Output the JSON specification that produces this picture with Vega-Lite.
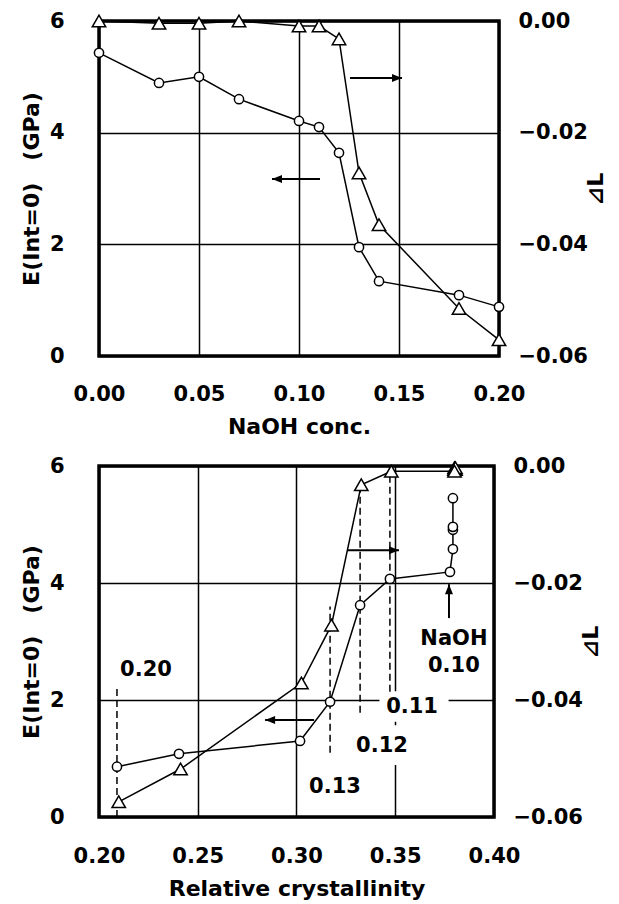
{
  "$schema": "https://vega.github.io/schema/vega-lite/v6.json",
  "background": "white",
  "padding": {"left": 18, "top": 8, "right": 0, "bottom": 0},
  "spacing": 14,
  "config": {
    "font": "DejaVu Sans",
    "view": {"stroke": "black", "strokeWidth": 3.5},
    "axis": {
      "labelFont": "DejaVu Sans", "labelFontWeight": "bold", "labelFontSize": 21, "labelColor": "black",
      "titleFont": "DejaVu Sans", "titleFontWeight": "bold", "titleFontSize": 22, "titleColor": "black",
      "domain": false, "ticks": false, "gridColor": "black", "gridWidth": 1.5, "gridOpacity": 1, "labelFlush": false, "labelOverlap": false
    }
  },
  "datasets": {
    "top": [
      {"x": 0.00, "E": 5.43, "dL": 0.0000},
      {"x": 0.03, "E": 4.89, "dL": -0.0004},
      {"x": 0.05, "E": 5.00, "dL": -0.0004},
      {"x": 0.07, "E": 4.60, "dL": 0.0000},
      {"x": 0.10, "E": 4.21, "dL": -0.0009},
      {"x": 0.11, "E": 4.10, "dL": -0.0009},
      {"x": 0.12, "E": 3.64, "dL": -0.0032},
      {"x": 0.13, "E": 1.95, "dL": -0.0272},
      {"x": 0.14, "E": 1.34, "dL": -0.0365},
      {"x": 0.18, "E": 1.09, "dL": -0.0515},
      {"x": 0.20, "E": 0.88, "dL": -0.0571}
    ],
    "topArrows": [
      {"x": 0.1255, "x2": 0.1515, "E": 4.98, "E2": 4.98},
      {"x": 0.1105, "x2": 0.0865, "E": 3.17, "E2": 3.17}
    ],
    "topHeads": [
      {"x": 0.1515, "E": 4.98, "dir": "right"},
      {"x": 0.0865, "E": 3.17, "dir": "left"}
    ],
    "bE": [
      {"c": 0.00, "x": 0.3792, "E": 5.45},
      {"c": 0.03, "x": 0.3792, "E": 4.91},
      {"c": 0.05, "x": 0.3792, "E": 4.96},
      {"c": 0.07, "x": 0.3792, "E": 4.58},
      {"c": 0.10, "x": 0.3777, "E": 4.19},
      {"c": 0.11, "x": 0.3473, "E": 4.07},
      {"c": 0.12, "x": 0.3322, "E": 3.62},
      {"c": 0.13, "x": 0.3170, "E": 1.97},
      {"c": 0.14, "x": 0.3018, "E": 1.30},
      {"c": 0.18, "x": 0.2405, "E": 1.08},
      {"c": 0.20, "x": 0.2091, "E": 0.86}
    ],
    "bL": [
      {"c": 0.00, "x": 0.3800, "dL": -0.0003},
      {"c": 0.03, "x": 0.3805, "dL": -0.0006},
      {"c": 0.05, "x": 0.3800, "dL": -0.0006},
      {"c": 0.07, "x": 0.3805, "dL": -0.0003},
      {"c": 0.10, "x": 0.3800, "dL": -0.0009},
      {"c": 0.11, "x": 0.3480, "dL": -0.0009},
      {"c": 0.12, "x": 0.3328, "dL": -0.0032},
      {"c": 0.13, "x": 0.3177, "dL": -0.0272},
      {"c": 0.14, "x": 0.3025, "dL": -0.0371},
      {"c": 0.18, "x": 0.2413, "dL": -0.0518},
      {"c": 0.20, "x": 0.2100, "dL": -0.0574}
    ],
    "bDash": [
      {"x": 0.2091, "E": 0, "E2": 2.2},
      {"x": 0.3170, "E": 1.1, "E2": 3.6},
      {"x": 0.3322, "E": 1.78, "E2": 5.68},
      {"x": 0.3473, "E": 2.14, "E2": 6}
    ],
    "bBox": [
      {"x": 0.342, "x2": 0.377, "E": 1.63, "E2": 2.15},
      {"x": 0.3306, "x2": 0.3633, "E": 0.89, "E2": 1.57}
    ],
    "bText": [
      {"x": 0.2238, "E": 2.51, "t": "0.20"},
      {"x": 0.3195, "E": 0.51, "t": "0.13"},
      {"x": 0.3433, "E": 1.21, "t": "0.12"},
      {"x": 0.3585, "E": 1.88, "t": "0.11"},
      {"x": 0.3797, "E": 3.04, "t": "NaOH"},
      {"x": 0.3797, "E": 2.58, "t": "0.10"}
    ],
    "bArrows": [
      {"x": 0.3256, "x2": 0.3519, "E": 4.56, "E2": 4.56},
      {"x": 0.3089, "x2": 0.2841, "E": 1.66, "E2": 1.66},
      {"x": 0.3772, "x2": 0.3772, "E": 3.40, "E2": 3.98}
    ],
    "bHeads": [
      {"x": 0.3519, "E": 4.56, "dir": "right"},
      {"x": 0.2841, "E": 1.66, "dir": "left"},
      {"x": 0.3772, "E": 3.98, "dir": "up"}
    ]
  },
  "vconcat": [
    {
      "width": 400,
      "height": 335,
      "encoding": {
        "x": {"field": "x", "type": "quantitative", "scale": {"domain": [0, 0.2], "nice": false, "zero": false},
              "axis": {"values": [0, 0.05, 0.1, 0.15, 0.2], "format": ".2f", "title": "NaOH conc.", "grid": true, "labelPadding": 27, "titlePadding": 12}}
      },
      "layer": [
        {
          "encoding": {
            "y": {"field": "E", "type": "quantitative", "scale": {"domain": [0, 6], "nice": false},
                  "axis": {"orient": "left", "values": [0, 2, 4, 6], "format": "d", "title": "E(Int=0)\u3000(GPa)", "grid": true, "labelPadding": 35, "titlePadding": 6}}
          },
          "layer": [
            {"data": {"name": "top"}, "mark": {"type": "line", "color": "black", "strokeWidth": 1.5}},
            {"data": {"name": "top"}, "mark": {"type": "point", "shape": "circle", "filled": true, "fill": "white", "stroke": "black", "strokeWidth": 1.5, "size": 85, "opacity": 1}},
            {"data": {"name": "topArrows"}, "mark": {"type": "rule", "color": "black", "strokeWidth": 2}, "encoding": {"x2": {"field": "x2"}, "y2": {"field": "E2"}}},
            {"data": {"name": "topHeads"}, "mark": {"type": "point", "filled": true, "color": "black", "size": 100, "opacity": 1},
             "encoding": {"shape": {"field": "dir", "type": "nominal", "scale": {"domain": ["right", "left", "up"], "range": ["M0,0L-2,-0.8L-2,0.8Z", "M0,0L2,-0.8L2,0.8Z", "M0,0L-0.8,2L0.8,2Z"]}, "legend": null}}}
          ]
        },
        {
          "encoding": {
            "y": {"field": "dL", "type": "quantitative", "scale": {"domain": [-0.06, 0], "nice": false, "zero": false},
                  "axis": {"orient": "right", "values": [-0.06, -0.04, -0.02, 0], "format": ".2f", "title": "⊿L", "titleAngle": -90, "grid": false, "labelPadding": 19, "titlePadding": 20}}
          },
          "layer": [
            {"data": {"name": "top"}, "mark": {"type": "line", "color": "black", "strokeWidth": 1.5}},
            {"data": {"name": "top"}, "mark": {"type": "point", "shape": "triangle-up", "filled": true, "fill": "white", "stroke": "black", "strokeWidth": 1.5, "size": 180, "opacity": 1}}
          ]
        }
      ],
      "resolve": {"scale": {"y": "independent"}}
    },
    {
      "width": 395,
      "height": 351,
      "encoding": {
        "x": {"field": "x", "type": "quantitative", "scale": {"domain": [0.2, 0.4], "nice": false, "zero": false},
              "axis": {"values": [0.2, 0.25, 0.3, 0.35, 0.4], "format": ".2f", "title": "Relative crystallinity", "grid": true, "labelPadding": 28, "titlePadding": 12}}
      },
      "layer": [
        {
          "encoding": {
            "y": {"field": "E", "type": "quantitative", "scale": {"domain": [0, 6], "nice": false},
                  "axis": {"orient": "left", "values": [0, 2, 4, 6], "format": "d", "title": "E(Int=0)\u3000(GPa)", "grid": true, "labelPadding": 35, "titlePadding": 6}}
          },
          "layer": [
            {"data": {"name": "bBox"}, "mark": {"type": "rect", "fill": "white", "stroke": null}, "encoding": {"x2": {"field": "x2"}, "y2": {"field": "E2"}}},
            {"data": {"name": "bDash"}, "mark": {"type": "rule", "color": "black", "strokeWidth": 1.5, "strokeDash": [7, 4]}, "encoding": {"y2": {"field": "E2"}}},
            {"data": {"name": "bE"}, "mark": {"type": "line", "color": "black", "strokeWidth": 1.5}, "encoding": {"order": {"field": "c", "type": "quantitative"}}},
            {"data": {"name": "bE"}, "mark": {"type": "point", "shape": "circle", "filled": true, "fill": "white", "stroke": "black", "strokeWidth": 1.5, "size": 85, "opacity": 1}},
            {"data": {"name": "bArrows"}, "mark": {"type": "rule", "color": "black", "strokeWidth": 2}, "encoding": {"x2": {"field": "x2"}, "y2": {"field": "E2"}}},
            {"data": {"name": "bHeads"}, "mark": {"type": "point", "filled": true, "color": "black", "size": 100, "opacity": 1},
             "encoding": {"shape": {"field": "dir", "type": "nominal", "scale": {"domain": ["right", "left", "up"], "range": ["M0,0L-2,-0.8L-2,0.8Z", "M0,0L2,-0.8L2,0.8Z", "M0,0L-0.8,2L0.8,2Z"]}, "legend": null}}},
            {"data": {"name": "bText"}, "mark": {"type": "text", "font": "DejaVu Sans", "fontWeight": "bold", "fontSize": 21, "color": "black", "align": "center", "baseline": "middle"}, "encoding": {"text": {"field": "t", "type": "nominal"}}}
          ]
        },
        {
          "encoding": {
            "y": {"field": "dL", "type": "quantitative", "scale": {"domain": [-0.06, 0], "nice": false, "zero": false},
                  "axis": {"orient": "right", "values": [-0.06, -0.04, -0.02, 0], "format": ".2f", "title": "⊿L", "titleAngle": -90, "grid": false, "labelPadding": 19, "titlePadding": 20}}
          },
          "layer": [
            {"data": {"name": "bL"}, "mark": {"type": "line", "color": "black", "strokeWidth": 1.5}, "encoding": {"order": {"field": "c", "type": "quantitative"}}},
            {"data": {"name": "bL"}, "mark": {"type": "point", "shape": "triangle-up", "filled": true, "fill": "white", "stroke": "black", "strokeWidth": 1.5, "size": 180, "opacity": 1}}
          ]
        }
      ],
      "resolve": {"scale": {"y": "independent"}}
    }
  ]
}
